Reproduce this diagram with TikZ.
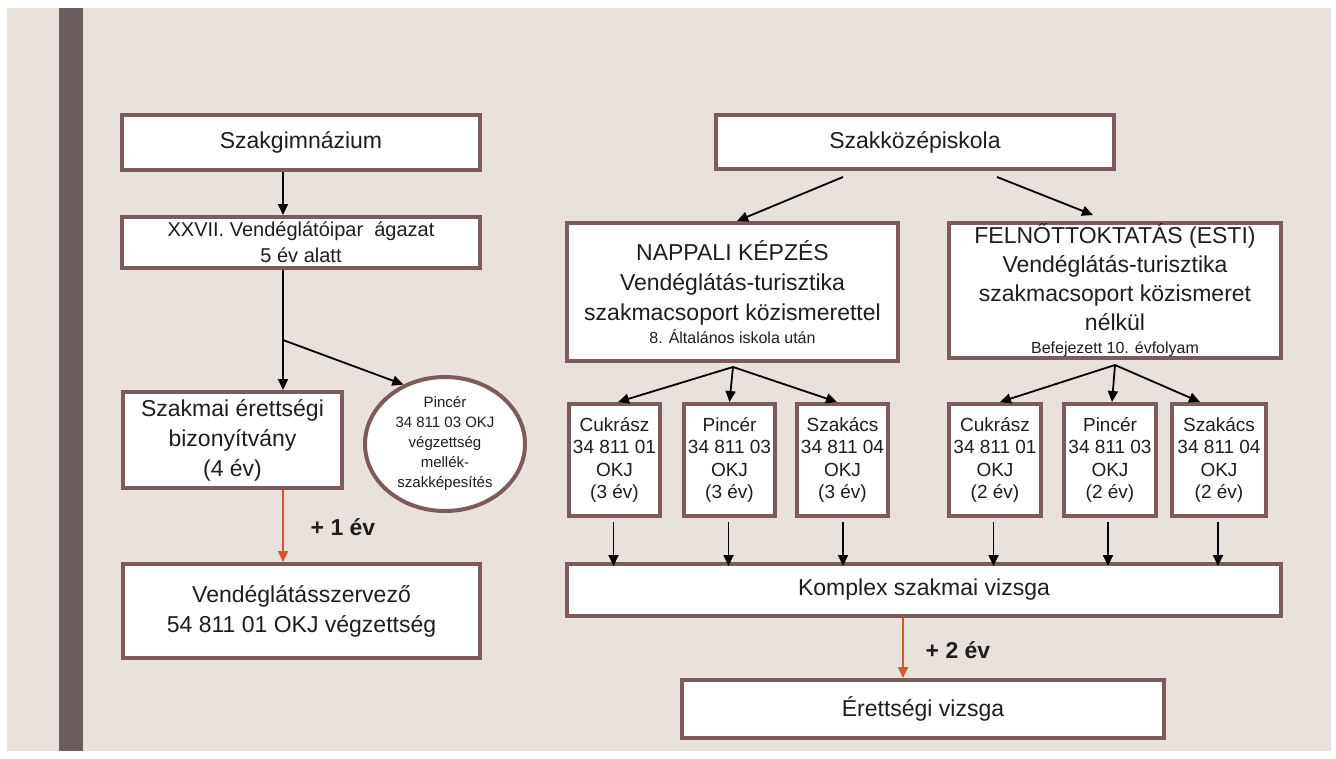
\documentclass[tikz,border=0pt]{standalone}
\usepackage{fontspec}
\setmainfont{Liberation Sans}
\usetikzlibrary{arrows.meta,shapes.geometric}
\definecolor{bgbeige}{HTML}{E9E1DB}
\definecolor{barcol}{HTML}{6A5E5E}
\definecolor{bord}{HTML}{7A5C5C}
\definecolor{txt}{HTML}{1E1E1E}
\definecolor{orng}{HTML}{D4582A}
\tikzset{
  boxnode/.style={draw=bord, line width=4pt, fill=white, inner sep=0pt, align=center, text=txt, rectangle},
  bigtxt/.style={font=\fontsize{23}{30}\selectfont},
  midtxt/.style={font=\fontsize{20}{26}\selectfont},
  jobtxt/.style={font=\fontsize{19}{22.5}\selectfont},
  elltxt/.style={font=\fontsize{15}{20}\selectfont},
  arr/.style={line width=1.8pt, black, -{Triangle[width=10pt,length=11pt]}},
  plainline/.style={line width=1.8pt, black},
  oarr/.style={line width=1.6pt, orng, -{Triangle[width=10pt,length=11pt]}},
  yearlbl/.style={font=\fontsize{23}{28}\selectfont\bfseries, text=txt, inner sep=0pt}
}
\begin{document}
\begin{tikzpicture}[x=1pt,y=-1pt]
\useasboundingbox (0,0) rectangle (1336,758);
\fill[white] (0,0) rectangle (1336,758);
\fill[bgbeige] (7,8) rectangle (1331,751);
\fill[barcol] (59,8) rectangle (83,751);

% left column
\node[boxnode, bigtxt, minimum width=358pt, minimum height=55pt] (sg) at (301,142.5) {Szakgimnázium};
\node[boxnode, midtxt, minimum width=358pt, minimum height=51pt] (xx) at (301,242.5) {XXVII. Vendéglátóipar\ \ ágazat\\5 év alatt};
\node[boxnode, bigtxt, minimum width=219pt, minimum height=96pt] (sz) at (232.5,440) {Szakmai érettségi\\bizonyítvány\\(4 év)};
\node[boxnode, ellipse, elltxt, minimum width=160pt, minimum height=134pt] (el) at (445,444) {Pincér\\34 811 03 OKJ\\végzettség\\mellék-\\szakképesítés};
\node[boxnode, bigtxt, minimum width=357pt, minimum height=94pt] (vs) at (301.5,611) {Vendéglátásszervező\\54 811 01 OKJ végzettség};
\node[yearlbl] (y1) at (343,527) {+ 1 év};

\coordinate (b1) at (283,340);
\draw[arr] ([xshift=-18pt]sg.south) -- ([xshift=-18pt]xx.north);
\draw[plainline] ([xshift=-18pt]xx.south) -- (b1);
\draw[arr] (b1) -- ([xshift=50.5pt]sz.north);
\draw[arr] (b1) -- (el.125);
\draw[oarr] ([xshift=50.5pt]sz.south) -- ([xshift=-18.5pt]vs.north);

% right column
\node[boxnode, bigtxt, minimum width=398pt, minimum height=54pt] (sk) at (915,142) {Szakközépiskola};
\node[boxnode, bigtxt, minimum width=331pt, minimum height=138pt] (np) at (732.5,292) {NAPPALI KÉPZÉS\\Vendéglátás-turisztika\\szakmacsoport közismerettel\\[-7pt]{\fontsize{16}{20}\selectfont 8. Általános iskola után}};
\node[boxnode, font=\fontsize{23}{29}\selectfont, minimum width=332pt, minimum height=135pt] (fn) at (1115,290.5) {FELNŐTTOKTATÁS (ESTI)\\Vendéglátás-turisztika\\szakmacsoport közismeret\\nélkül\\[-6pt]{\fontsize{16}{20}\selectfont Befejezett 10. évfolyam}};

\node[boxnode, jobtxt, minimum width=91pt, minimum height=112pt] (c1) at (614.5,460) {Cukrász\\34 811 01\\OKJ\\(3 év)};
\node[boxnode, jobtxt, minimum width=91pt, minimum height=112pt] (p1) at (729.5,460) {Pincér\\34 811 03\\OKJ\\(3 év)};
\node[boxnode, jobtxt, minimum width=91pt, minimum height=112pt] (s1) at (842.5,460) {Szakács\\34 811 04\\OKJ\\(3 év)};
\node[boxnode, jobtxt, minimum width=92pt, minimum height=112pt] (c2) at (995,460) {Cukrász\\34 811 01\\OKJ\\(2 év)};
\node[boxnode, jobtxt, minimum width=92pt, minimum height=112pt] (p2) at (1110,460) {Pincér\\34 811 03\\OKJ\\(2 év)};
\node[boxnode, jobtxt, minimum width=94pt, minimum height=112pt] (s2) at (1219,460) {Szakács\\34 811 04\\OKJ\\(2 év)};

\node[boxnode, bigtxt, minimum width=714pt, minimum height=52pt] (kx) at (924,590) {Komplex szakmai vizsga};
\node[boxnode, bigtxt, minimum width=482pt, minimum height=58pt] (er) at (923,709) {Érettségi vizsga};
\node[yearlbl] (y2) at (958,650) {+ 2 év};

\draw[arr] ([xshift=-72pt,yshift=-6pt]sk.south) -- ([xshift=4.5pt]np.north);
\draw[arr] ([xshift=82pt,yshift=-6pt]sk.south) -- ([xshift=-22pt,yshift=6pt]fn.north);

\coordinate (n1) at ([xshift=0.5pt,yshift=-4pt]np.south);
\draw[arr] (n1) -- ([xshift=3.5pt]c1.north);
\draw[arr] (n1) -- (p1.north);
\draw[arr] (n1) -- ([xshift=-5.5pt]s1.north);
\coordinate (f1) at ([yshift=-5pt]fn.south);
\draw[arr] (f1) -- ([xshift=5pt]c2.north);
\draw[arr] (f1) -- ([xshift=2pt]p2.north);
\draw[arr] (f1) -- ([xshift=-19pt]s2.north);

\foreach \b/\dx in {c1/-1, p1/-1, s1/0.5, c2/-1.5, p2/-2, s2/-1} {
  \draw[arr] ([xshift=\dx pt,yshift=-4pt]\b.south) -- ([xshift=\dx pt,yshift=-4pt]\b.south |- kx.north);
}
\draw[oarr] ([xshift=-21pt]kx.south) -- ([xshift=-21pt]kx.south |- er.north);
\end{tikzpicture}
\end{document}
